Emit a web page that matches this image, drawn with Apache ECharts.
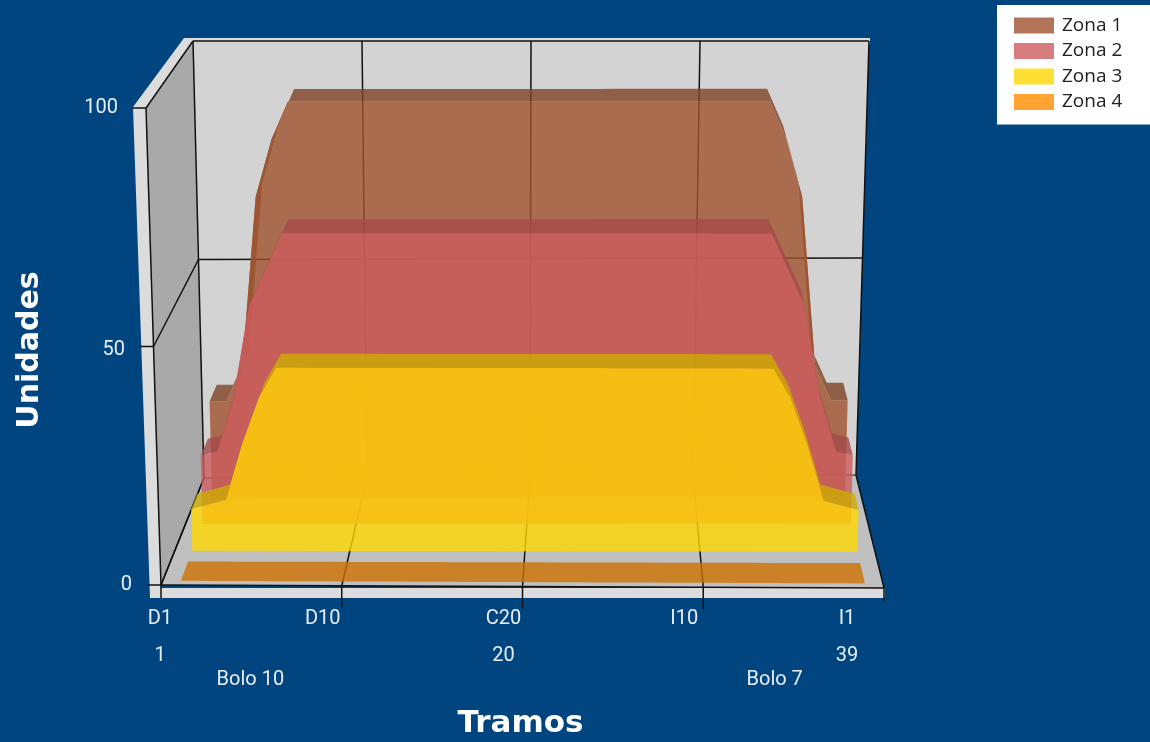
<!DOCTYPE html>
<html><head><meta charset="utf-8">
<style>html,body{margin:0;padding:0;background:#00457f}#c{width:1150px;height:742px}</style>
<script src="https://cdn.jsdelivr.net/npm/echarts@6/dist/echarts.min.js"></script>
</head><body><div id="c"></div>
<script>
const tramos=['D1','D2','D3','D4','D5','D6','D7','D8','D9','D10','D11','D12','D13','D14','D15','D16','D17','D18','D19','C20','I19','I18','I17','I16','I15','I14','I13','I12','I11','I10','I9','I8','I7','I6','I5','I4','I3','I2','I1'];
const numeros=tramos.map((t,i)=>String(i+1));
const bolos=tramos.map((t,i)=>i===5?'Bolo 10':i===34?'Bolo 7':'');
const zona1=[22,22,30,68,81,89.5,89.5,89.5,89.5,89.5,89.5,89.5,89.5,89.5,89.5,89.5,89.5,89.5,89.5,89.5,89.5,89.5,89.5,89.5,89.5,89.5,89.5,89.5,89.5,89.5,89.5,89.5,89.5,89.5,81,68,30,22,22];
const zona2=[15,16,28,48,56,64,64,64,64,64,64,64,64,64,64,64,64,64,64,64,64,64,64,64,64,64,64,64,64,64,64,64,64,64,56,48,28,16,15];
const zona3=[9,10,11,23,33,39.5,39.5,39.5,39.5,39.5,39.5,39.5,39.5,39.5,39.5,39.5,39.5,39.5,39.5,39.5,39.5,39.5,39.5,39.5,39.5,39.5,39.5,39.5,39.5,39.5,39.5,39.5,39.5,39.5,33,23,11,10,9];
const zona4=tramos.map(()=>0);
const yTicks=[0,50,100];
const xTicks=[0,10,20,30,40];
const depth={z1:[.80,.97],z2:[.57,.74],z3:[.32,.47],z4:[.04,.22]};

const GL=160,GW=687,GT=105,GH=478;
const F=[[161,585],[884,588],[146,108],[897,110]];
const B=[[204,478],[856,475],[193,41],[869,41]];
const mix=(a,b,t)=>[a[0]+(b[0]-a[0])*t,a[1]+(b[1]-a[1])*t];
const plane=(Q,u,h)=>mix(mix(Q[0],Q[1],u),mix(Q[2],Q[3],u),h);
const P=(u,h,z)=>mix(plane(F,u,h),plane(B,u,h),z);
const norm=(api,idx,v)=>{const c=api.coord([idx,v]);return [.025+.95*(c[0]-GL)/GW,(GT+GH-c[1])/GH];};

function zoneSeries(name,vals,rgb,zr){
  const col=`rgba(${rgb.join(',')},0.8)`;
  const dark=`rgba(${rgb.map(c=>Math.round(c*.8)).join(',')},0.8)`;
  return {name,type:'custom',coordinateSystem:'cartesian2d',xAxisIndex:0,yAxisIndex:0,clip:false,silent:true,
    itemStyle:{color:col},encode:{x:0,y:1},
    data:vals.map((v,i)=>[i,v]),
    renderItem(params,api){
      if(params.dataIndex!==0) return null;
      const n=vals.map((v,i)=>norm(api,i,v));
      const frontTop=n.map(p=>P(p[0],p[1],zr[0]));
      const backTop=n.map(p=>P(p[0],p[1],zr[1]));
      const frontBase=[P(n[n.length-1][0],0,zr[0]),P(n[0][0],0,zr[0])];
      const children=[];
      children.push({type:'polygon',shape:{points:frontTop.concat(backTop.slice().reverse())},style:{fill:dark}});
      if(Math.max(...vals)>0) children.push({type:'polygon',shape:{points:frontTop.concat(frontBase)},style:{fill:col}});
      return {type:'group',children};
    }};
}
const frameSeries={name:'marco',type:'custom',coordinateSystem:'cartesian2d',xAxisIndex:0,yAxisIndex:0,clip:false,silent:true,
  data:[[0,0]],encode:{x:0,y:1},
  renderItem(params,api){
    const poly=(pts,fill)=>({type:'polygon',shape:{points:pts},style:{fill}});
    const line=(a,b,w,c)=>({type:'line',shape:{x1:a[0],y1:a[1],x2:b[0],y2:b[1]},style:{stroke:c||'#111',lineWidth:w||1.5}});
    const ch=[];
    ch.push(poly([[133,107],[184,38],[870,38],[870,44],[193,44],[146,110],[161,588],[885,588],[885,598],[150,598]],'#dcdcdc'));
    ch.push(poly([[F[0][0],F[0][1]],[F[1][0],F[1][1]],[B[1][0],B[1][1]],[B[0][0],B[0][1]]],'#c0c0c0'));
    ch.push(poly([[F[2][0],F[2][1]],[B[2][0],B[2][1]],[B[0][0],B[0][1]],[F[0][0],F[0][1]]],'#a9a9a9'));
    ch.push(poly([B[2],B[3],B[1],B[0]],'#d3d3d3'));
    yTicks.forEach(v=>{
      const h=v/100;
      ch.push(line([P(0,h,0)[0]-14,P(0,h,0)[1]],P(0,h,0)));
      ch.push(line(P(0,h,0),P(0,h,1)));
      if(v>0) ch.push(line(P(0,h,1),P(1,h,1)));
    });
    xTicks.forEach(t=>{
      const u=t/40;
      ch.push(line(P(u,0,1),P(u,1,1)));
      ch.push(line(P(u,0,0),P(u,0,1)));
      const a=P(u,0,0);
      ch.push(line(a,[a[0],a[1]+(t%40?22:13)]));
    });
    ch.push(line(P(0,0,0),P(1,0,0)));
    ch.push(line(P(0,0,1),P(1,0,1),1));
    ch.push(line(P(0,0,0),P(0,1,0)));
    return {type:'group',children:ch};
  }};

const tickFont={color:'#e8eef4',fontFamily:'Roboto',fontSize:20};
const chart=echarts.init(document.getElementById('c'),null,{renderer:'canvas'});
chart.setOption({
  animation:false,backgroundColor:'#00457f',
  legend:{data:['Zona 1','Zona 2','Zona 3','Zona 4'],orient:'vertical',left:997,top:5,backgroundColor:'#fff',borderRadius:0,
    icon:'rect',itemWidth:40,itemHeight:16,itemGap:6.5,padding:[11,30,13,17],selectedMode:false,
    textStyle:{color:'#222',fontFamily:'Open Sans',fontSize:19,padding:[0,0,0,3]}},
  grid:{left:GL,width:GW,top:GT,height:GH,outerBoundsMode:'none'},
  xAxis:[
    {type:'category',boundaryGap:false,data:tramos,position:'bottom',axisLine:{show:false},axisTick:{show:false},splitLine:{show:false},
     axisLabel:Object.assign({},tickFont,{margin:26,interval:(i)=>[0,9,19,29,38].includes(i)}),
     name:'Tramos',nameLocation:'middle',nameGap:125,nameTextStyle:{color:'#fff',fontFamily:'DejaVu Sans',fontWeight:'bold',fontSize:31,padding:[0,0,0,34]}},
    {type:'category',boundaryGap:false,data:numeros,position:'bottom',offset:37,axisLine:{show:false},axisTick:{show:false},
     axisLabel:Object.assign({},tickFont,{margin:26,interval:(i)=>[0,19,38].includes(i)})},
    {type:'category',boundaryGap:false,data:bolos,position:'bottom',offset:61,axisLine:{show:false},axisTick:{show:false},
     axisLabel:Object.assign({},tickFont,{margin:26,interval:0})}
  ],
  yAxis:{type:'value',min:0,max:100,interval:50,axisLine:{show:false},axisTick:{show:false},splitLine:{show:false},
    axisLabel:{margin:28,formatter:v=>`{p${v}|${v}}`,
      rich:{p0:Object.assign({},tickFont,{padding:[4,0,0,0]}),p50:Object.assign({},tickFont,{padding:[12,7,0,0]}),p100:Object.assign({},tickFont,{padding:[6,14,0,0]})}},
    name:'Unidades',nameLocation:'middle',nameGap:115,nameRotate:90,
    nameTextStyle:{color:'#fff',fontFamily:'DejaVu Sans',fontWeight:'bold',fontSize:30,padding:[0,12,0,0]}},
  series:[frameSeries,
    zoneSeries('Zona 1',zona1,[160,82,45],depth.z1),
    zoneSeries('Zona 2',zona2,[205,92,92],depth.z2),
    zoneSeries('Zona 3',zona3,[255,215,0],depth.z3),
    zoneSeries('Zona 4',zona4,[255,140,0],depth.z4)]
});
</script></body></html>
